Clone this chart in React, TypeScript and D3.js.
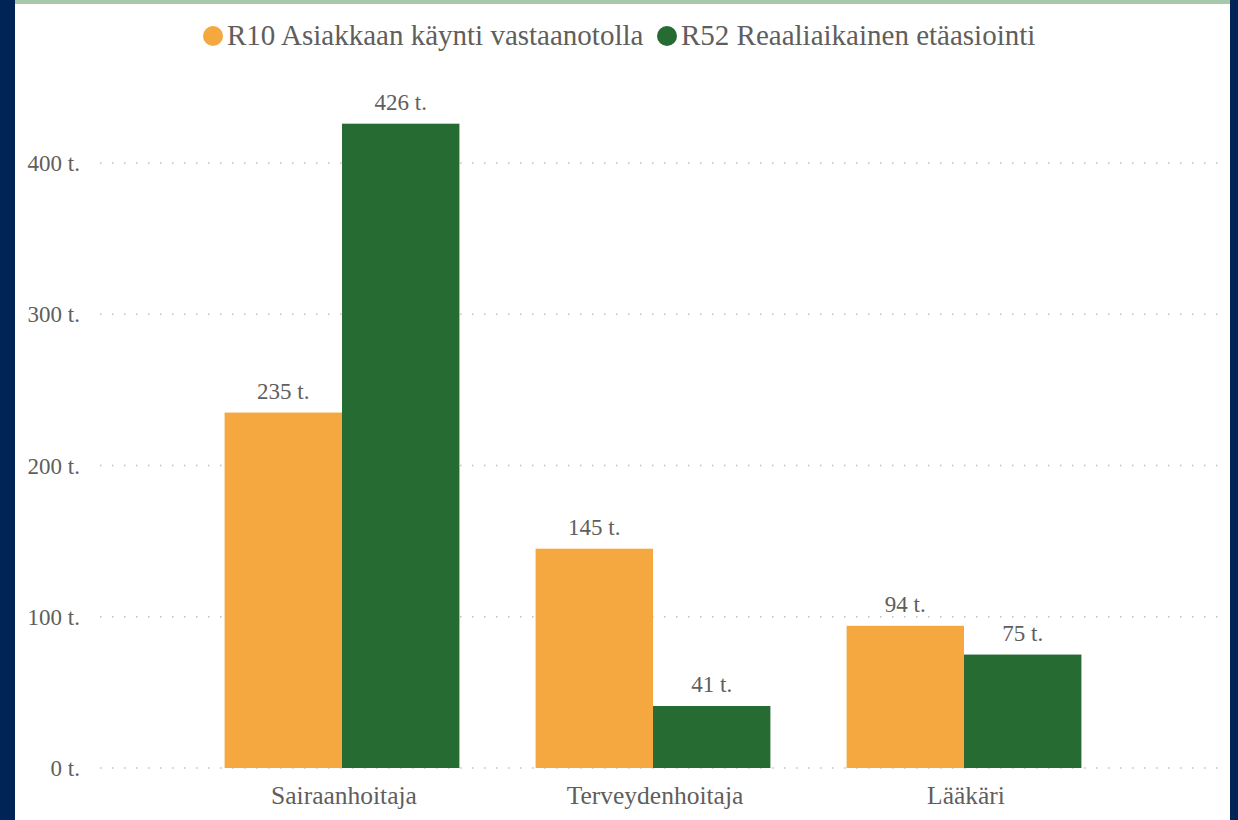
import React, { useEffect, useRef } from "react";
import * as d3 from "d3";

const categories = ["Sairaanhoitaja", "Terveydenhoitaja", "Lääkäri"];
const seriesNames = ["R10 Asiakkaan käynti vastaanotolla", "R52 Reaaliaikainen etäasiointi"];
const r10Values = [235, 145, 94];
const r52Values = [426, 41, 75];
const yTicks = [0, 100, 200, 300, 400];
const colors = ["#f5a840", "#256b32"];

const App = () => {
  const ref = useRef<SVGSVGElement>(null);

  useEffect(() => {
    const width = 1238;
    const height = 820;
    const font = "Liberation Serif";
    const textColor = "#605e5c";

    const svg = d3.select(ref.current).attr("width", width).attr("height", height);
    svg.selectAll("*").remove();

    // background and frame
    svg.append("rect").attr("width", width).attr("height", height).attr("fill", "#ffffff");
    svg.append("rect").attr("x", 0).attr("y", 0).attr("width", 15).attr("height", height).attr("fill", "#002456");
    svg.append("rect").attr("x", 1230).attr("y", 0).attr("width", 8).attr("height", height).attr("fill", "#002456");
    svg.append("rect").attr("x", 15).attr("y", 0).attr("width", 1215).attr("height", 4).attr("fill", "#a8c8ac");

    const y = d3.scaleLinear().domain([0, 400]).range([768, 163]);
    const x = d3
      .scaleBand()
      .domain(categories)
      .range([186.5, 1119.5])
      .paddingInner(0.245)
      .paddingOuter(0.1225);
    const xs = d3.scaleBand().domain(seriesNames).range([0, x.bandwidth()]);

    // grid lines
    svg
      .append("g")
      .selectAll("line")
      .data(yTicks)
      .join("line")
      .attr("x1", 100)
      .attr("x2", 1220)
      .attr("y1", (d) => y(d))
      .attr("y2", (d) => y(d))
      .attr("stroke", "#c0c0c0")
      .attr("stroke-width", 1.5)
      .attr("stroke-dasharray", "1.5,10.5");

    // y tick labels
    svg
      .append("g")
      .selectAll("text")
      .data(yTicks)
      .join("text")
      .attr("x", 80)
      .attr("y", (d) => y(d))
      .attr("dy", "0.35em")
      .attr("text-anchor", "end")
      .attr("font-family", font)
      .attr("font-size", 23)
      .attr("fill", textColor)
      .text((d) => `${d} t.`);

    const series = [r10Values, r52Values];
    series.forEach((vals, si) => {
      const g = svg.append("g");
      g.selectAll("rect")
        .data(vals)
        .join("rect")
        .attr("x", (_, i) => (x(categories[i]) ?? 0) + (xs(seriesNames[si]) ?? 0))
        .attr("y", (d) => y(d))
        .attr("width", xs.bandwidth())
        .attr("height", (d) => y(0) - y(d))
        .attr("fill", colors[si]);
      g.selectAll("text")
        .data(vals)
        .join("text")
        .attr("x", (_, i) => (x(categories[i]) ?? 0) + (xs(seriesNames[si]) ?? 0) + xs.bandwidth() / 2)
        .attr("y", (d) => y(d) - 14)
        .attr("text-anchor", "middle")
        .attr("font-family", font)
        .attr("font-size", 23)
        .attr("fill", textColor)
        .text((d) => `${d} t.`);
    });

    // category labels
    svg
      .append("g")
      .selectAll("text")
      .data(categories)
      .join("text")
      .attr("x", (d) => (x(d) ?? 0) + x.bandwidth() / 2 + 2)
      .attr("y", 804)
      .attr("text-anchor", "middle")
      .attr("font-family", font)
      .attr("font-size", 25.5)
      .attr("fill", textColor)
      .text((d) => d);

    // legend
    const legend = svg.append("g").attr("font-family", font).attr("font-size", 29).attr("fill", textColor);
    const legendX = [213, 667];
    seriesNames.forEach((name, i) => {
      legend.append("circle").attr("cx", legendX[i]).attr("cy", 36).attr("r", 10).attr("fill", colors[i]);
      legend
        .append("text")
        .attr("x", legendX[i] + 14)
        .attr("y", 45)
        .text(name);
    });
  }, []);

  return <svg ref={ref} style={{ display: "block", position: "absolute", left: 0, top: 0 }}></svg>;
};

export default App;
